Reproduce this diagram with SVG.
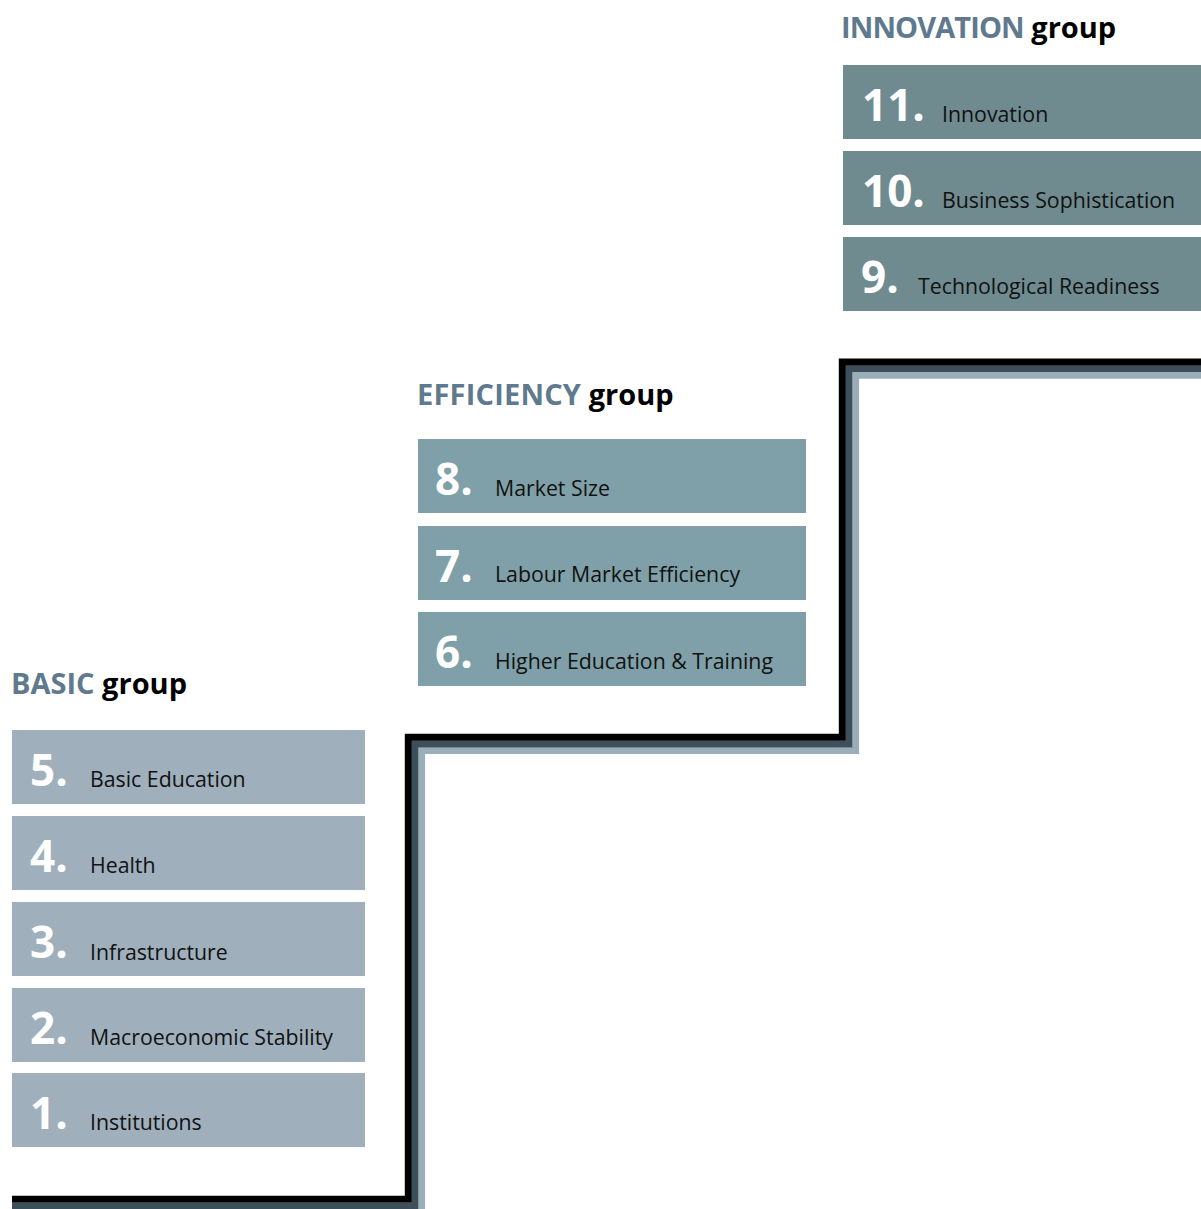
<svg xmlns="http://www.w3.org/2000/svg" width="1201" height="1209" viewBox="0 0 1201 1209">
<style>
.bg{fill:#ffffff}
.basic{fill:#9fb0bc}
.eff{fill:#7fa0a8}
.inn{fill:#6f8b90}
.num{font-family:"Open Sans","Noto Sans",sans-serif;font-weight:700;font-size:44px;fill:#ffffff}
.lbl{font-family:"Open Sans","Noto Sans",sans-serif;font-size:21.3px;fill:#111111}
.hdr{font-family:"Open Sans","Noto Sans",sans-serif;font-weight:700;font-size:29px;fill:#000000}
.hdr .grp{fill:#5f7a8e}
.stair{fill:none;stroke-linejoin:miter;stroke-linecap:butt}
</style>
<rect class="bg" x="0" y="0" width="1201" height="1209"/>
<g id="connectors">
  <path class="stair" d="M12 1213 H421.7 V750.7 H855.7 V375.3 H1201" stroke="#9aaeba" stroke-width="6.8"/>
  <path class="stair" d="M12 1206.3 H415 V744 H849 V368.7 H1201" stroke="#3d4f5a" stroke-width="6.8"/>
  <path class="stair" d="M12 1199.3 H408.3 V737.3 H842.3 V362 H1201" stroke="#000000" stroke-width="7"/>
</g>
<g id="header-innovation"><text class="hdr" x="841" y="38"><tspan class="grp" letter-spacing="-0.9">INNOVATION</tspan> group</text></g>
<g id="header-efficiency"><text class="hdr" x="417" y="405"><tspan class="grp" letter-spacing="0.2">EFFICIENCY</tspan> group</text></g>
<g id="header-basic"><text class="hdr" x="11" y="694"><tspan class="grp">BASIC</tspan> group</text></g>

<g id="node-11"><rect class="inn" x="843" y="65" width="358" height="74"/><text class="num" x="862" y="121">11.</text><text class="lbl" x="942" y="122">Innovation</text></g>
<g id="node-10"><rect class="inn" x="843" y="151" width="358" height="74"/><text class="num" x="862" y="207">10.</text><text class="lbl" x="942" y="208">Business Sophistication</text></g>
<g id="node-9"><rect class="inn" x="843" y="237" width="358" height="74"/><text class="num" x="861" y="293">9.</text><text class="lbl" x="918" y="294">Technological Readiness</text></g>

<g id="node-8"><rect class="eff" x="418" y="439" width="388" height="74"/><text class="num" x="435" y="495">8.</text><text class="lbl" x="495" y="496">Market Size</text></g>
<g id="node-7"><rect class="eff" x="418" y="526" width="388" height="74"/><text class="num" x="435" y="582">7.</text><text class="lbl" x="495" y="582">Labour Market Efficiency</text></g>
<g id="node-6"><rect class="eff" x="418" y="612" width="388" height="74"/><text class="num" x="435" y="668">6.</text><text class="lbl" x="495" y="669">Higher Education &amp; Training</text></g>

<g id="node-5"><rect class="basic" x="12" y="730" width="353" height="74"/><text class="num" x="30" y="786">5.</text><text class="lbl" x="90" y="787">Basic Education</text></g>
<g id="node-4"><rect class="basic" x="12" y="816" width="353" height="74"/><text class="num" x="30" y="872">4.</text><text class="lbl" x="90" y="873">Health</text></g>
<g id="node-3"><rect class="basic" x="12" y="902" width="353" height="74"/><text class="num" x="30" y="958">3.</text><text class="lbl" x="90" y="960">Infrastructure</text></g>
<g id="node-2"><rect class="basic" x="12" y="988" width="353" height="74"/><text class="num" x="30" y="1044">2.</text><text class="lbl" x="90" y="1045">Macroeconomic Stability</text></g>
<g id="node-1"><rect class="basic" x="12" y="1073" width="353" height="74"/><text class="num" x="30" y="1129">1.</text><text class="lbl" x="90" y="1130">Institutions</text></g>
</svg>
